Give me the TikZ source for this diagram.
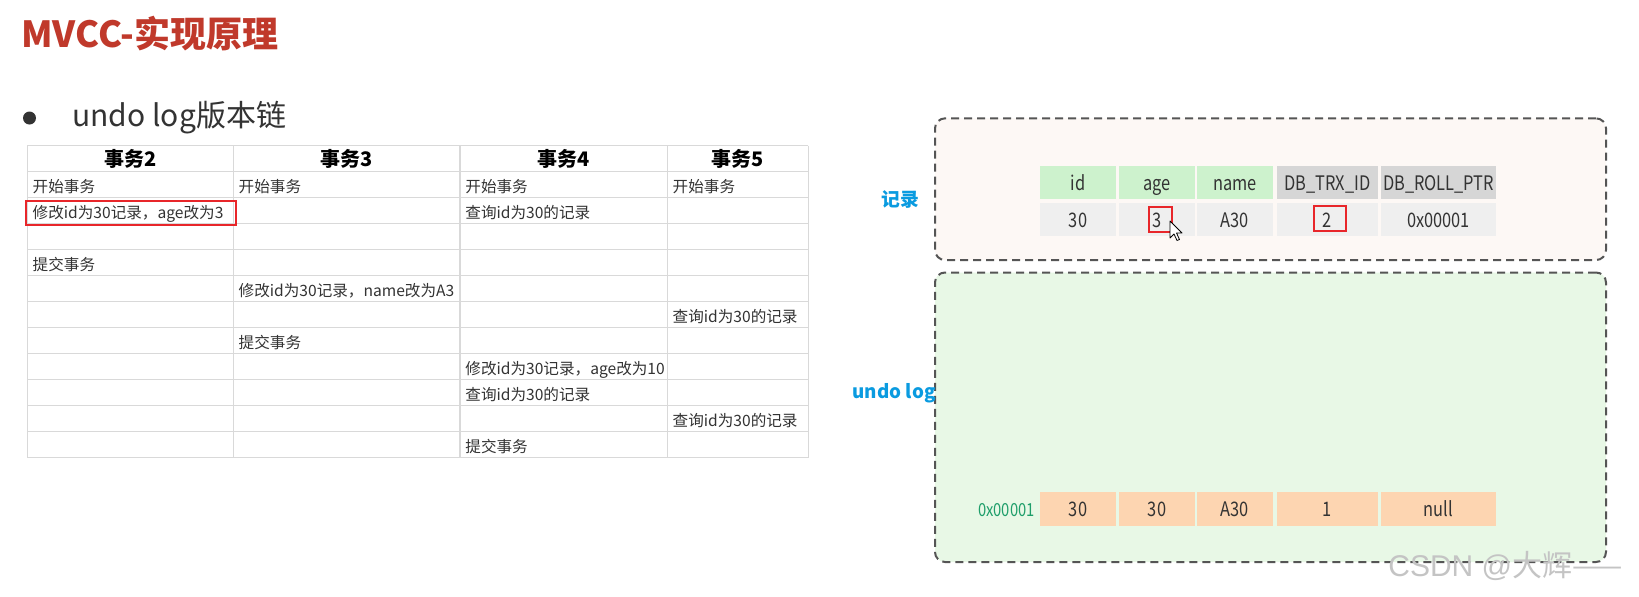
\documentclass[tikz,border=0pt]{standalone}
\usepackage{fontspec}
\setmainfont{Noto Sans CJK SC}
\newfontfamily\cellfont{Noto Sans CJK SC}[FakeStretch=0.82]
\newfontfamily\wmfont{Liberation Sans}
\newfontfamily\wmcjk{Noto Sans CJK SC}
\definecolor{titlered}{HTML}{C0392B}
\definecolor{textdark}{HTML}{333333}
\definecolor{gridgray}{HTML}{D9D9D9}
\definecolor{hlred}{HTML}{E8262A}
\definecolor{dashgray}{HTML}{555555}
\definecolor{recfill}{HTML}{FDF8F5}
\definecolor{undofill}{HTML}{E8F8E6}
\definecolor{hdrgreen}{HTML}{CDF2CD}
\definecolor{hdrgray}{HTML}{D6D6D6}
\definecolor{datagray}{HTML}{EFEFEF}
\definecolor{peach}{HTML}{FDD5B1}
\definecolor{labelblue}{HTML}{0A9BE0}
\definecolor{addrgreen}{HTML}{1E9E6A}
\definecolor{wmgray}{HTML}{C4C4C4}
\tikzset{
  tcell/.style={anchor=west, inner sep=0pt, text=textdark, text height=0.88em, text depth=0.12em,
    font=\fontsize{7.8}{9}\selectfont},
  thead/.style={inner sep=0pt, text=black, text height=0.88em, text depth=0.12em,
    font=\fontsize{10}{12}\selectfont\bfseries},
  dashbox/.style={draw=dashgray, line width=1pt, dash pattern=on 4pt off 2.5pt, rounded corners=5pt,
    minimum width=335.5pt, inner sep=0pt},
  rcell/.style={inner sep=0pt, minimum height=16.5pt, text=textdark, text height=0.88em, text depth=0.12em,
    font=\cellfont\fontsize{10}{12}\selectfont},
  wA/.style={minimum width=38pt},
  wB/.style={minimum width=50.5pt},
  wC/.style={minimum width=57.5pt},
  hlbox/.style={draw=hlred, line width=1pt},
  sidelabel/.style={text=labelblue, inner sep=0pt, font=\fontsize{9.4}{11}\selectfont\bfseries},
}
\begin{document}
\begin{tikzpicture}[x=0.5pt,y=-0.5pt]
\useasboundingbox (0,0) rectangle (1639,596);
\fill[white] (0,0) rectangle (1639,596);

% title and bullet
\node[anchor=west, inner sep=0pt, text=titlered, font=\fontsize{18}{21}\selectfont\bfseries] (title) at (21,34) {MVCC-实现原理};
\node[circle, fill=textdark, minimum size=6.5pt, inner sep=0pt] (bullet) at (29.5,118) {};
\node[anchor=west, inner sep=0pt, text=textdark, font=\fontsize{15}{18}\selectfont] (sub) at (72,118) {undo log版本链};

% table grid
\foreach \i in {0,...,12} {
  \draw[gridgray, line width=0.75pt] (27.3,145.7+26*\i) -- (808.3,145.7+26*\i);
}
\foreach \x in {27.3,233.3,460,667.3,808.3} {
  \draw[gridgray, line width=0.75pt] (\x,145.7) -- (\x,457.7);
}

% header
\node[thead] (h2) at (130.3,158.7) {事务2};
\node[thead] (h3) at (346.7,158.7) {事务3};
\node[thead] (h4) at (563.7,158.7) {事务4};
\node[thead] (h5) at (737.8,158.7) {事务5};

% rows
\node[tcell] (a1) at (32.3,184.7) {开始事务};
\node[tcell] (b1) at (238.3,184.7) {开始事务};
\node[tcell] (c1) at (465,184.7) {开始事务};
\node[tcell] (d1) at (672.3,184.7) {开始事务};
\node[tcell] (a2) at (32.3,210.7) {修改id为30记录，age改为3};
\node[tcell] (c2) at (465,210.7) {查询id为30的记录};
\node[tcell] (a4) at (32.3,262.7) {提交事务};
\node[tcell] (b5) at (238.3,288.7) {修改id为30记录，name改为A3};
\node[tcell] (d6) at (672.3,314.7) {查询id为30的记录};
\node[tcell] (b7) at (238.3,340.7) {提交事务};
\node[tcell] (c8) at (465,366.7) {修改id为30记录，age改为10};
\node[tcell] (c9) at (465,392.7) {查询id为30的记录};
\node[tcell] (d10) at (672.3,418.7) {查询id为30的记录};
\node[tcell] (c11) at (465,444.7) {提交事务};

\draw[hlbox] (25.7,201) rectangle (236,225);

% right boxes
\node[dashbox, fill=recfill, minimum height=70.85pt] (recbox) at (1270.5,189.2) {};
\node[dashbox, fill=undofill, minimum height=144.75pt] (undobox) at (1270.5,417.25) {};

\node[sidelabel] (reclabel) at (900,199) {记录};
\node[sidelabel, anchor=east] (undolabel) at (936,393) {undo log};

% record header
\node[rcell, wA, fill=hdrgreen] (hid) at (1078,182.5) {id};
\node[rcell, wA, fill=hdrgreen] (hage) at (1157,182.5) {age};
\node[rcell, wA, fill=hdrgreen] (hname) at (1235,182.5) {name};
\node[rcell, wB, fill=hdrgray] (htrx) at (1327.5,182.5) {DB\_TRX\_ID};
\node[rcell, wC, fill=hdrgray] (hroll) at (1438.5,182.5) {DB\_ROLL\_PTR};
% record data
\node[rcell, wA, fill=datagray] (rid) at (1078,219.5) {30};
\node[rcell, wA, fill=datagray] (rage) at (1157,219.5) {3};
\node[rcell, wA, fill=datagray] (rname) at (1235,219.5) {A30};
\node[rcell, wB, fill=datagray] (rtrx) at (1327.5,219.5) {2};
\node[rcell, wC, fill=datagray] (rroll) at (1438.5,219.5) {0x00001};

\draw[hlbox] (1149.3,207) rectangle (1171.7,231.7);
\draw[hlbox] (1313.7,206) rectangle (1346,231);

% cursor
\draw[black, line width=0.4pt, fill=white, line join=round]
  (1170,221) -- ++(0,17) -- ++(4,-4) -- ++(3,6.5) -- ++(2.5,-1) -- ++(-3,-6.5) -- ++(5.5,0) -- cycle;

% undo row
\node[anchor=east, inner sep=0pt, text=addrgreen, text height=0.88em, text depth=0.12em,
  font=\cellfont\fontsize{9}{10}\selectfont] (addr) at (1035,509) {0x00001};
\node[rcell, wA, fill=peach, minimum height=17pt] (uid) at (1078,509) {30};
\node[rcell, wA, fill=peach, minimum height=17pt] (uage) at (1157,509) {30};
\node[rcell, wA, fill=peach, minimum height=17pt] (uname) at (1235,509) {A30};
\node[rcell, wB, fill=peach, minimum height=17pt] (utrx) at (1327.5,509) {1};
\node[rcell, wC, fill=peach, minimum height=17pt] (uroll) at (1438.5,509) {null};

% watermark
\node[anchor=west, inner sep=0pt, text=wmgray, font=\wmfont\fontsize{15}{18}\selectfont] (wm) at (1388,566) {CSDN @{\wmcjk 大辉——}};
\end{tikzpicture}
\end{document}
